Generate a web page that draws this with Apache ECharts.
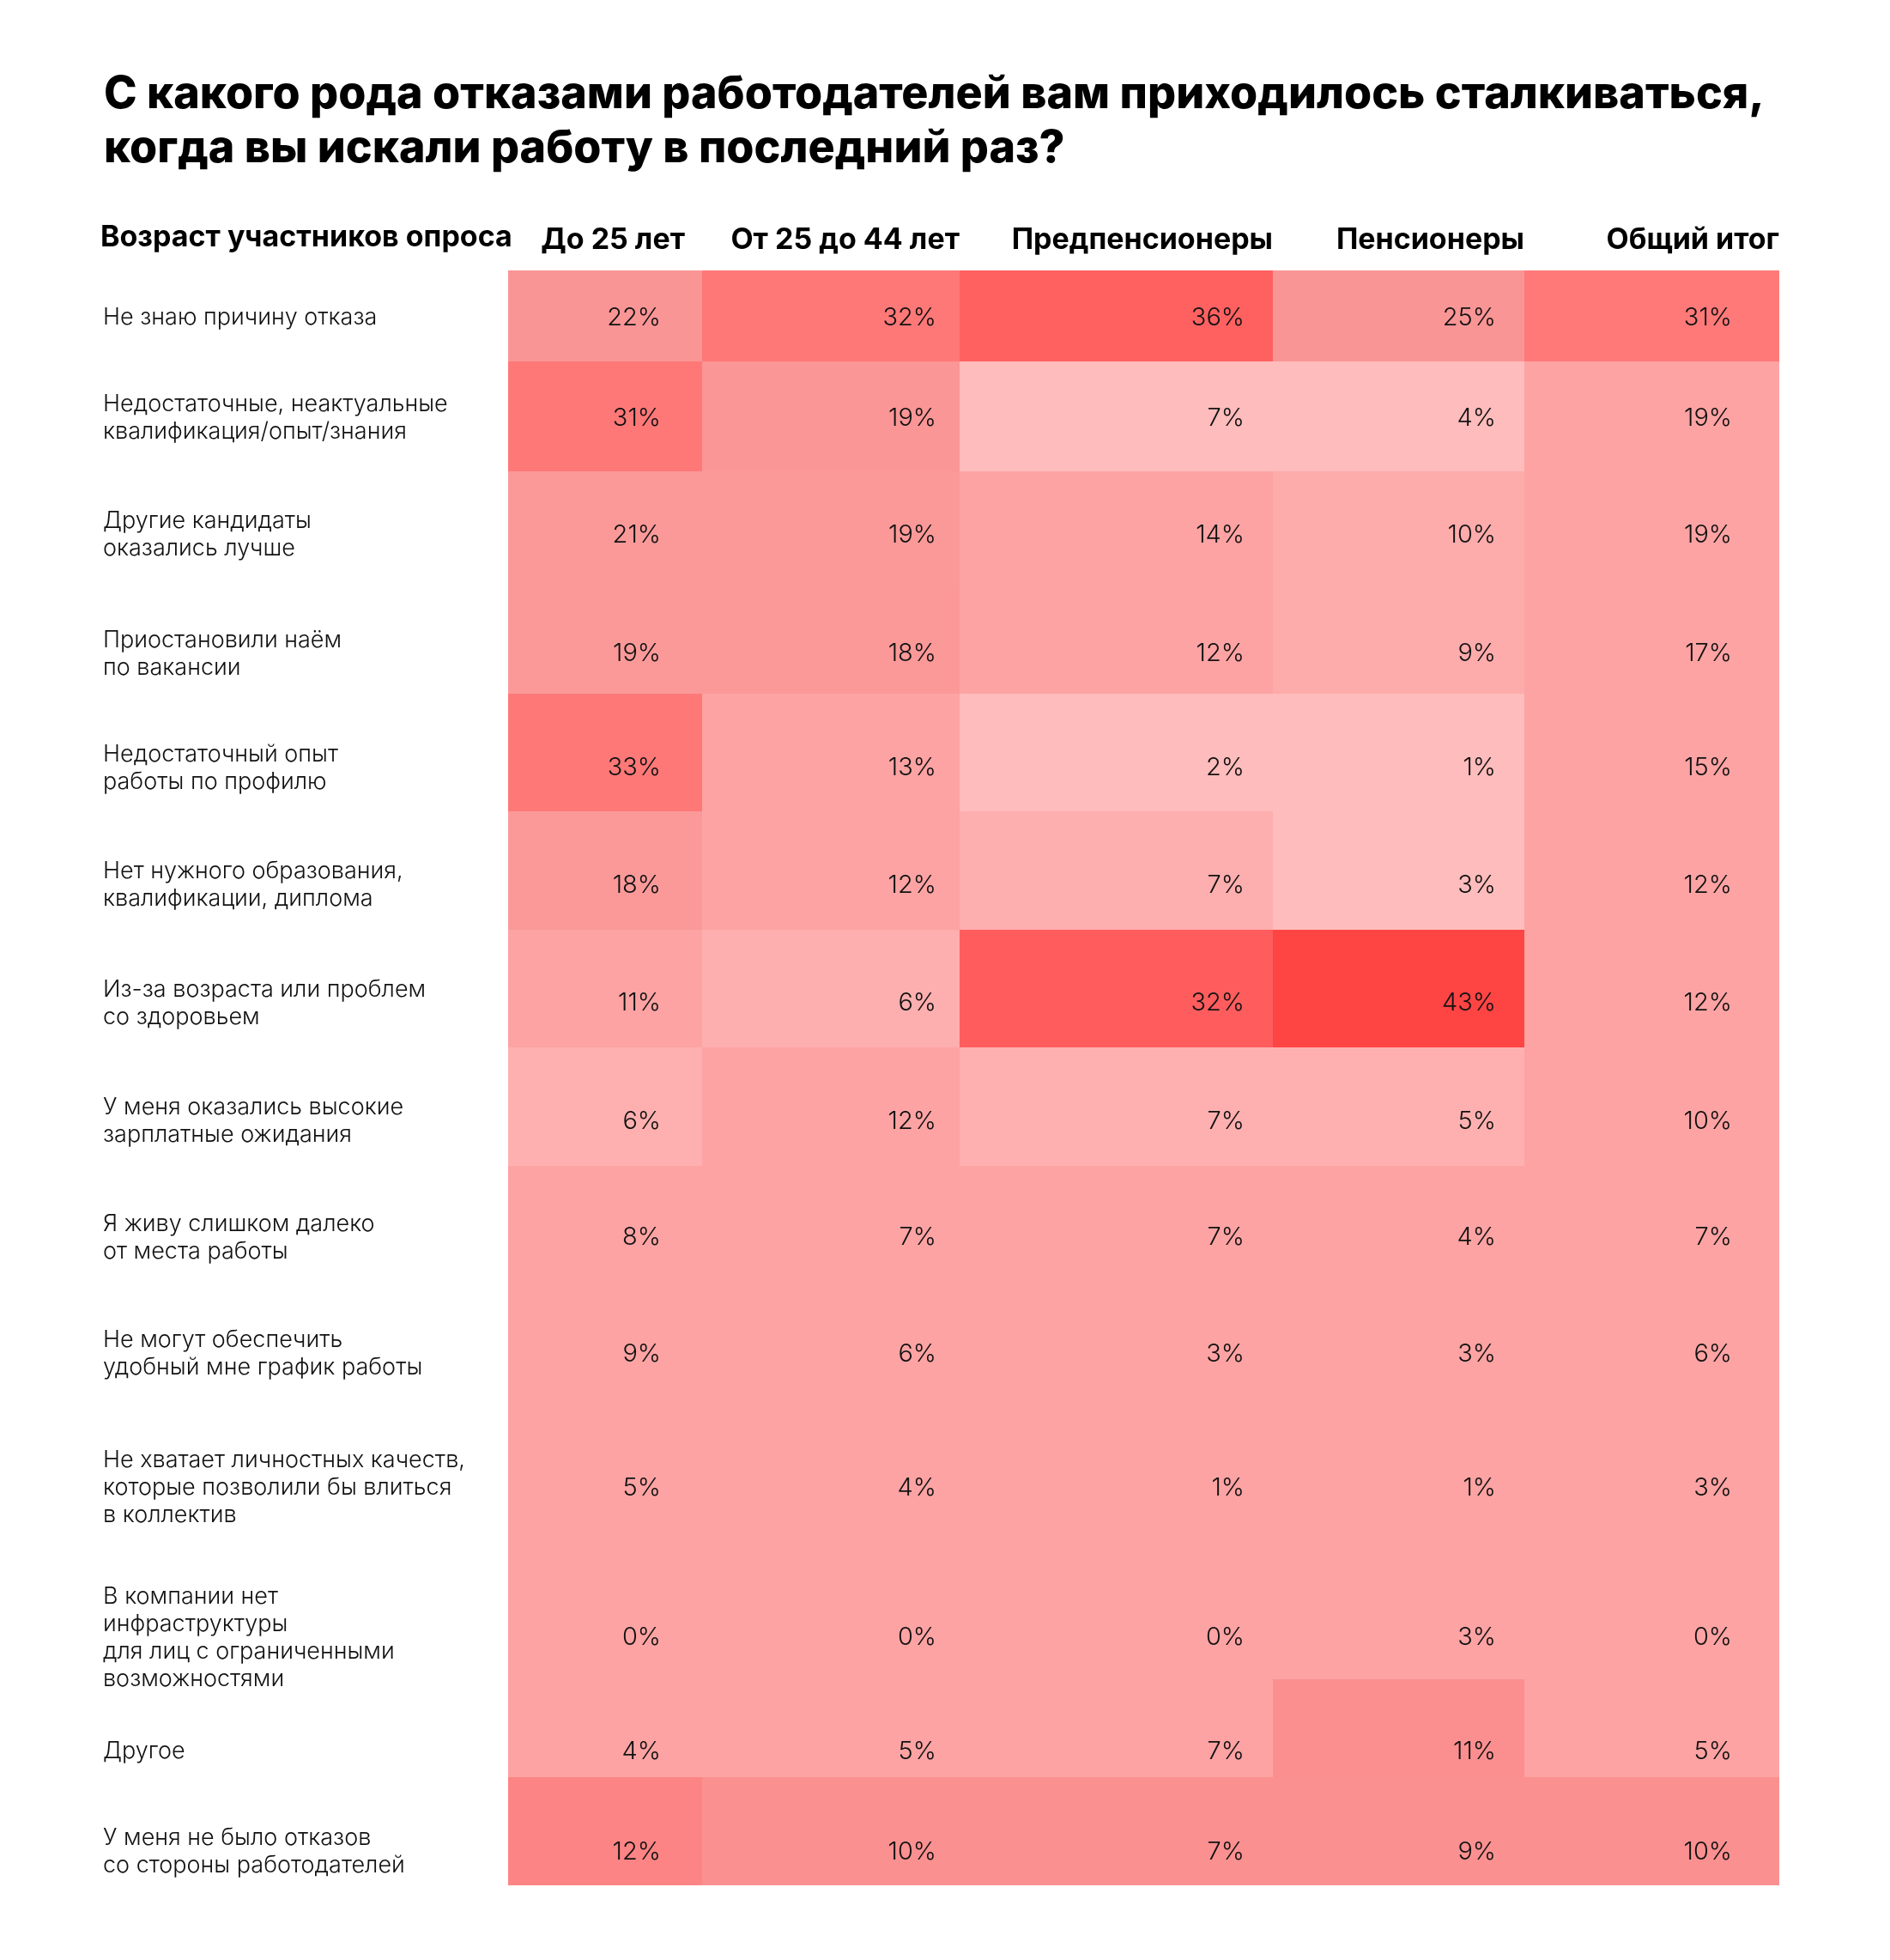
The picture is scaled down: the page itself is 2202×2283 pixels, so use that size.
<!DOCTYPE html>
<html>
<head>
<meta charset="utf-8">
<script src="https://cdn.jsdelivr.net/npm/echarts@6/dist/echarts.min.js"></script>
<style>
  html, body { margin: 0; padding: 0; background: #fff; }
  #chart { width: 2202px; height: 2283px; }
</style>
</head>
<body>
<div id="chart"></div>
<script>
const titleText = 'С какого рода отказами работодателей вам приходилось сталкиваться,\nкогда вы искали работу в последний раз?';
const cornerLabel = 'Возраст участников опроса';
const groups = ['До 25 лет', 'От 25 до 44 лет', 'Предпенсионеры', 'Пенсионеры', 'Общий итог'];
const reasons = [
  'Не знаю причину отказа',
  'Недостаточные, неактуальные\nквалификация/опыт/знания',
  'Другие кандидаты\nоказались лучше',
  'Приостановили наём\nпо вакансии',
  'Недостаточный опыт\nработы по профилю',
  'Нет нужного образования,\nквалификации, диплома',
  'Из-за возраста или проблем\nсо здоровьем',
  'У меня оказались высокие\nзарплатные ожидания',
  'Я живу слишком далеко\nот места работы',
  'Не могут обеспечить\nудобный мне график работы',
  'Не хватает личностных качеств,\nкоторые позволили бы влиться\nв коллектив',
  'В компании нет\nинфраструктуры\nдля лиц с ограниченными\nвозможностями',
  'Другое',
  'У меня не было отказов\nсо стороны работодателей'
];
// доля ответов, %, по строкам (столбцы как в groups)
const values = [
  [22, 32, 36, 25, 31],
  [31, 19, 7, 4, 19],
  [21, 19, 14, 10, 19],
  [19, 18, 12, 9, 17],
  [33, 13, 2, 1, 15],
  [18, 12, 7, 3, 12],
  [11, 6, 32, 43, 12],
  [6, 12, 7, 5, 10],
  [8, 7, 7, 4, 7],
  [9, 6, 3, 3, 6],
  [5, 4, 1, 1, 3],
  [0, 0, 0, 3, 0],
  [4, 5, 7, 11, 5],
  [12, 10, 7, 9, 10]
];
// насыщенность заливки, как на картинке: 0 — самая светлая, 100 — самая тёмная
const tones = [
  [50, 75, 86, 50, 74],
  [75, 48, 0, 0, 25],
  [42, 42, 25, 17, 25],
  [42, 44, 25, 17, 25],
  [75, 25, 0, 0, 25],
  [42, 25, 14, 0, 25],
  [25, 14, 88, 100, 25],
  [12, 25, 12, 12, 25],
  [25, 25, 25, 25, 25],
  [25, 25, 25, 25, 25],
  [25, 25, 25, 25, 25],
  [25, 25, 25, 25, 25],
  [25, 25, 25, 55, 25],
  [65, 54, 54, 54, 54]
];

// сетка таблицы (в пикселях от левого верхнего угла таблицы)
const colEdges = [0, 226, 526, 891, 1184, 1481];
const rowEdges = [0, 106, 234, 372, 493, 630, 768, 905, 1043, 1180, 1316, 1486, 1641, 1755, 1881];
// правый край подписей-процентов в каждом столбце
const valueAnchor = [178, 499, 858, 1151, 1426];
// вертикальный сдвиг подписей в строке относительно её середины
const labelDy = [2, 2, 5, 14, 18, 17, 17, 17, 15, 14, 17, 29, 27, 24];
const FONT = 'Inter, "Noto Sans", sans-serif';

const cells = [];
values.forEach((row, r) => row.forEach((v, c) => cells.push([c, r, v, tones[r][c]])));

const chart = echarts.init(document.getElementById('chart'), null, { renderer: 'canvas' });

chart.setOption({
  backgroundColor: '#fff',
  animation: false,
  title: {
    text: titleText,
    left: 116,
    top: 74,
    textStyle: { fontFamily: FONT, fontSize: 52, fontWeight: 800, lineHeight: 63, color: '#000' }
  },
  graphic: [{
    type: 'text',
    left: 117,
    top: 280 - 20,
    style: { text: cornerLabel, fontFamily: FONT, fontSize: 34, fontWeight: 700, fill: '#000' }
  }],
  grid: { left: 592, top: 315, width: 1481, height: 1881 },
  xAxis: { type: 'value', min: 0, max: 1481, show: false },
  yAxis: { type: 'value', min: 0, max: 1881, inverse: true, show: false },
  visualMap: {
    show: false,
    seriesIndex: 0,
    dimension: 3,
    min: 0,
    max: 100,
    inRange: { color: ['#FEBCBC', '#FDA3A3', '#FA9595', '#FF7878', '#FF4444'] }
  },
  series: [
    {
      type: 'custom',
      clip: false,
      data: cells,
      renderItem: function (params, api) {
        const c = api.value(0), r = api.value(1);
        const p0 = api.coord([colEdges[c], rowEdges[r]]);
        const p1 = api.coord([colEdges[c + 1], rowEdges[r + 1]]);
        const pa = api.coord([valueAnchor[c], 0]);
        return {
          type: 'group',
          children: [{
            type: 'rect',
            shape: { x: p0[0], y: p0[1], width: p1[0] - p0[0], height: p1[1] - p0[1] },
            style: { fill: api.visual('color') }
          }, {
            type: 'text',
            style: {
              text: api.value(2) + '%',
              x: pa[0],
              y: (p0[1] + p1[1]) / 2 + labelDy[r],
              align: 'right',
              verticalAlign: 'middle',
              fontFamily: FONT,
              fontSize: 29,
              fontWeight: 300,
              fill: '#111'
            }
          }]
        };
      }
    },
    {
      type: 'custom',
      clip: false,
      data: reasons.map((_, r) => [0, r]),
      renderItem: function (params, api) {
        const r = api.value(1);
        const p0 = api.coord([0, rowEdges[r]]);
        const p1 = api.coord([0, rowEdges[r + 1]]);
        return {
          type: 'text',
          style: {
            text: reasons[r],
            x: p0[0] - 472,
            y: (p0[1] + p1[1]) / 2 + labelDy[r],
            align: 'left',
            verticalAlign: 'middle',
            lineHeight: 32,
            fontFamily: FONT,
            fontSize: 27,
            fontWeight: 300,
            fill: '#111'
          }
        };
      }
    },
    {
      type: 'custom',
      clip: false,
      data: groups.map((_, c) => [c, 0]),
      renderItem: function (params, api) {
        const c = api.value(0);
        const p = api.coord([colEdges[c + 1], 0]);
        return {
          type: 'text',
          style: {
            text: groups[c],
            x: c === 0 ? p[0] - 20 : p[0],
            y: p[1] - 35,
            align: 'right',
            verticalAlign: 'middle',
            fontFamily: FONT,
            fontSize: 34,
            fontWeight: 700,
            fill: '#000'
          }
        };
      }
    }
  ]
});
</script>
</body>
</html>
